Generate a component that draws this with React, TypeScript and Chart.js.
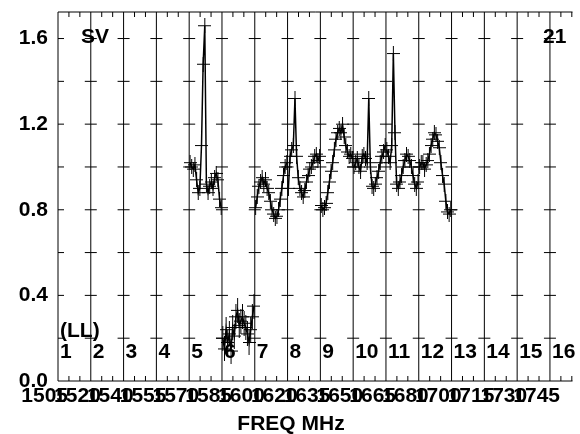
import React, { useEffect, useRef } from 'react';
import { Chart, registerables } from 'chart.js';

Chart.register(...registerables);

// ---- axis / label data ----
const windowNumbers = ['1', '2', '3', '4', '5', '6', '7', '8', '9', '10', '11', '12', '13', '14', '15', '16'];
const windowStartMHz = [1512.5, 1528.5, 1544.5, 1560.5, 1576.5, 1592.5, 1608.5, 1624.5, 1640.5, 1656.5, 1672.5, 1688.5, 1704.5, 1720.5, 1736.5, 1752.5];
const windowWidthMHz = 16;
const channelWidthMHz = 0.8;
const freqMin = 1512.5;
const freqMax = 1763.5;
const freqTickValues = [1506, 1522, 1538, 1554, 1570, 1586, 1602, 1618, 1634, 1650, 1666, 1682, 1698, 1714, 1730, 1746];
const freqTickLabels = ['1505', '1520', '1540', '1555', '1570', '1585', '1600', '1620', '1635', '1650', '1665', '1680', '1700', '1715', '1730', '1745'];
const yTickValues = [0, 0.2, 0.4, 0.6, 0.8, 1.0, 1.2, 1.4, 1.6];
const yLabelStep = 0.4;
const yMax = 1.724;

// ---- amplitude per channel, spectral windows 5..12 ----
const amp5 = [1.02, 1.0, 0.99, 1.01, 0.94, 0.88, 0.9, 1.1, 1.48, 1.66, 0.92, 0.88, 0.91, 0.93, 0.9, 0.95, 0.97, 0.94, 0.85, 0.81];
const amp6 = [0.2, 0.15, 0.24, 0.18, 0.22, 0.14, 0.25, 0.21, 0.3, 0.33, 0.26, 0.28, 0.3, 0.27, 0.25, 0.22, 0.18, 0.24, 0.3, 0.35];
const amp7 = [0.81, 0.86, 0.91, 0.93, 0.95, 0.92, 0.94, 0.9, 0.88, 0.84, 0.8, 0.78, 0.76, 0.77, 0.8, 0.85, 0.9, 0.96, 1.0, 1.02];
const amp8 = [0.9, 1.05, 1.08, 1.1, 1.32, 1.05, 0.95, 0.9, 0.88, 0.86, 0.89, 0.93, 0.96, 0.99, 1.0, 1.02, 1.05, 1.06, 1.03, 1.05];
const amp9 = [0.82, 0.8, 0.81, 0.83, 0.88, 0.93, 0.98, 1.02, 1.08, 1.13, 1.16, 1.18, 1.16, 1.2, 1.14, 1.1, 1.07, 1.05, 1.06, 1.04];
const amp10 = [1.0, 1.02, 1.04, 1.0, 0.98, 1.05, 1.06, 1.04, 1.02, 1.32, 1.0, 0.91, 0.9, 0.92, 0.95, 0.98, 1.02, 1.05, 1.07, 1.1];
const amp11 = [1.08, 1.05, 1.02, 1.1, 1.53, 1.16, 0.92, 0.9, 0.93, 0.96, 1.0, 1.03, 1.06, 1.05, 1.03, 1.0, 0.96, 0.92, 0.9, 0.93];
const amp12 = [1.0, 1.02, 1.02, 0.99, 1.01, 1.03, 1.06, 1.1, 1.13, 1.16, 1.15, 1.12, 1.09, 1.02, 0.96, 0.92, 0.84, 0.79, 0.78, 0.8];
const windowSeries: [number, number[]][] = [
  [5, amp5], [6, amp6], [7, amp7], [8, amp8], [9, amp9], [10, amp10], [11, amp11], [12, amp12],
];

const FONT = '"Liberation Sans", Arial, Helvetica, sans-serif';

function makeCross(w: number, h: number) {
  const c = document.createElement('canvas');
  c.width = w;
  c.height = h;
  const g = c.getContext('2d')!;
  g.fillStyle = '#000';
  g.fillRect(0, Math.floor(h / 2), w, 1);
  g.fillRect(Math.floor(w / 2), 0, 1, h);
  return c;
}

const framePlugin = {
  id: 'frame',
  beforeDatasetsDraw(chart: any) {
    const { ctx, chartArea: a, scales } = chart;
    const x = scales.x;
    const y = scales.y;
    ctx.save();
    ctx.strokeStyle = '#000';
    ctx.lineWidth = 1;
    ctx.beginPath();
    ctx.moveTo(a.left, a.top);
    ctx.lineTo(a.right, a.top);
    ctx.moveTo(a.left, a.bottom);
    ctx.lineTo(a.right, a.bottom);
    windowStartMHz.forEach((f) => {
      const px = x.getPixelForValue(f);
      ctx.moveTo(px, a.top);
      ctx.lineTo(px, a.bottom);
      for (let j = 1; j < 3; j++) {
        const mx = x.getPixelForValue(f + (j * windowWidthMHz) / 3);
        if (mx > a.right) continue;
        ctx.moveTo(mx, a.top);
        ctx.lineTo(mx, a.top + 5);
        ctx.moveTo(mx, a.bottom);
        ctx.lineTo(mx, a.bottom - 5);
      }
      yTickValues.forEach((v) => {
        if (v === 0) return;
        const py = y.getPixelForValue(v);
        ctx.moveTo(Math.max(px - 6, a.left), py);
        ctx.lineTo(px + 6, py);
      });
    });
    ctx.stroke();
    ctx.restore();
  },
  afterDraw(chart: any) {
    const { ctx, chartArea: a, scales } = chart;
    const x = scales.x;
    ctx.save();
    ctx.fillStyle = '#000';
    ctx.font = `bold 21px ${FONT}`;
    ctx.textBaseline = 'middle';
    ctx.textAlign = 'left';
    windowNumbers.forEach((n, i) => {
      ctx.fillText(n, x.getPixelForValue(windowStartMHz[i]) + 2, 352);
    });
    ctx.fillText('(LL)', a.left + 2, 331);
    ctx.fillText('SV', 81, 37);
    ctx.fillText('21', 543, 37);
    ctx.textAlign = 'center';
    freqTickLabels.forEach((t, i) => {
      ctx.fillText(t, x.getPixelForValue(freqTickValues[i]), 396);
    });
    ctx.fillText('FREQ MHz', 291, 424);
    ctx.restore();
  },
};

export default function App() {
  const ref = useRef<HTMLCanvasElement>(null);
  useEffect(() => {
    const cross = makeCross(13, 15);
    const crossTall = makeCross(13, 25);
    const datasets = windowSeries.map(([w, amps]) => ({
      label: 'SPW ' + w,
      data: amps.map((v, i) => ({ x: windowStartMHz[w - 1] + (i + 0.5) * channelWidthMHz, y: v })),
      borderColor: '#000',
      borderWidth: 1.5,
      pointStyle: w === 6 ? crossTall : cross,
      pointRadius: 6,
      tension: 0,
      fill: false,
    }));
    const chart = new Chart(ref.current!, {
      type: 'line',
      data: { datasets },
      plugins: [framePlugin],
      options: {
        animation: false,
        responsive: false,
        devicePixelRatio: 1,
        layout: { padding: { top: 12, right: 0, bottom: 53, left: 0 } },
        plugins: { legend: { display: false }, tooltip: { enabled: false } },
        scales: {
          x: { type: 'linear', display: false, min: freqMin, max: freqMax },
          y: {
            type: 'linear',
            position: 'left',
            min: 0,
            max: yMax,
            grid: { display: false, drawTicks: false },
            border: { display: false },
            afterBuildTicks: (s: any) => {
              s.ticks = yTickValues.map((v) => ({ value: v }));
            },
            afterFit: (s: any) => {
              s.width = 58;
              s.paddingTop = 0;
              s.paddingBottom = 0;
              s.paddingLeft = 0;
              s.paddingRight = 0;
            },
            ticks: {
              autoSkip: false,
              padding: 10,
              color: '#000',
              font: { family: FONT, size: 21, weight: 'bold' },
              callback: (v: any) => {
                const r = Number(v) / yLabelStep;
                return Math.abs(r - Math.round(r)) < 1e-6 ? Number(v).toFixed(1) : '';
              },
            },
          },
        },
      },
    });
    return () => chart.destroy();
  }, []);
  return (
    <div style={{ position: 'fixed', left: 0, top: 0, width: 580, height: 434, background: '#fff' }}>
      <canvas ref={ref} width={580} height={434} style={{ display: 'block' }} />
    </div>
  );
}
